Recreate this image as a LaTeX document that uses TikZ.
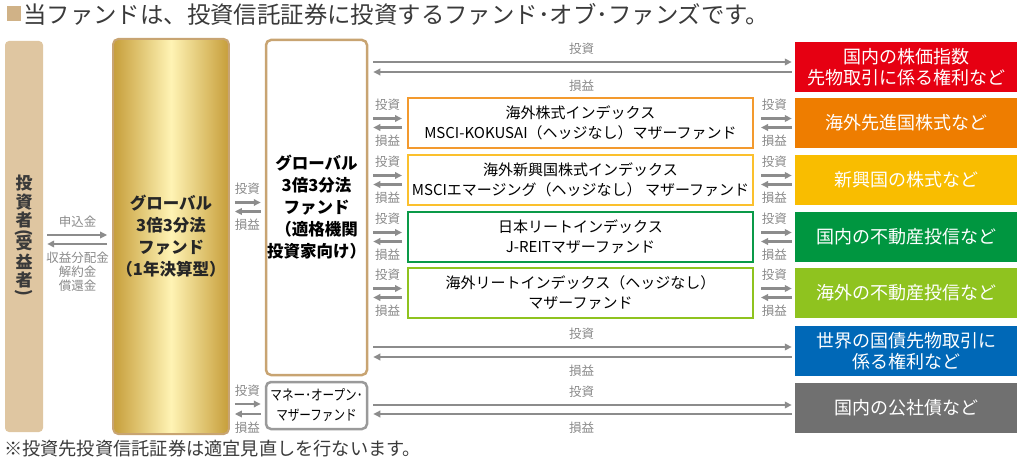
\documentclass[tikz,border=0pt]{standalone}
\usepackage{graphicx}
\usepackage{fontspec}
\setmainfont{Noto Sans CJK JP}
\newfontfamily\condfont[FakeStretch=0.8]{Noto Sans CJK JP}
\usetikzlibrary{arrows.meta,calc}

\definecolor{arrowgray}{HTML}{8C8C8C}
\definecolor{labelgray}{HTML}{8A8A8A}
\definecolor{textgray}{HTML}{3A3A3A}
\definecolor{tanfill}{HTML}{DFC6A1}
\definecolor{tanedge}{HTML}{C8A472}
\definecolor{golddark}{HTML}{C69E3A}
\definecolor{goldlight}{HTML}{FFF3B4}
\definecolor{moneyedge}{HTML}{9A9A9A}
\definecolor{edgeorange}{HTML}{F39A2E}
\definecolor{edgeyellow}{HTML}{FBC02D}
\definecolor{edgegreen}{HTML}{0A9A48}
\definecolor{edgelime}{HTML}{8FC31F}
\definecolor{assetred}{HTML}{E60012}
\definecolor{assetorange}{HTML}{EE7D00}
\definecolor{assetyellow}{HTML}{F9BD00}
\definecolor{assetgreen}{HTML}{009640}
\definecolor{assetlime}{HTML}{8FC31F}
\definecolor{assetblue}{HTML}{0068B7}
\definecolor{assetgray}{HTML}{707070}

\tikzset{
	arr/.style={color=arrowgray, line width=2.2pt, -{Triangle[length=7pt,width=6.5pt]}},
	lbl/.style={text=labelgray, font=\fontsize{12.5}{14}\selectfont, inner sep=1.5pt},
	fundbox/.style={rounded corners=5pt, line width=2.5pt, fill=white, align=center, inner sep=0pt,
		font=\bfseries\fontsize{16.5}{22}\selectfont},
	mother/.style={draw, line width=2pt, fill=white, minimum width=345pt, minimum height=50pt,
		align=center, inner sep=0pt, font=\fontsize{15}{20}\selectfont},
	asset/.style={text=white, minimum width=222pt, minimum height=50pt, align=center, inner sep=0pt,
		font=\fontsize{18}{21}\selectfont},
}

\begin{document}
\begin{tikzpicture}[x=1pt,y=-1pt]
	\useasboundingbox (0,0) rectangle (1024,462);

	% title and note
	\node(sq) at (13.5,14) [fill=tanedge!85, minimum width=14pt, minimum height=15pt, inner sep=0pt] {};
	\node(ttl) at (23,14) [anchor=west, text=textgray, inner sep=0pt, font=\fontsize{23.4}{25}\selectfont]
		{当ファンドは、投資信託証券に投資するファンド･オブ･ファンズです。};
	\node(note) at (4,449) [anchor=west, text=textgray, inner sep=0pt, font=\fontsize{18.2}{20}\selectfont]
		{※投資先投資信託証券は適宜見直しを行ないます。};

	% left side
	\node(inv) at (24,236.5) [fill=tanfill, rounded corners=4pt, minimum width=38pt, minimum height=391pt,
		text=textgray, align=center, inner sep=0pt, font=\bfseries\fontsize{17}{18.5}\selectfont]
		{投\\資\\者\\[-7pt]\rotatebox[origin=c]{-90}{(}\\[-7pt]受\\益\\者\\[-7pt]\rotatebox[origin=c]{-90}{)}};
	\node(gf) at (171,236.5) [draw=tanedge, line width=2pt, rounded corners=5pt, left color=golddark,
		right color=golddark, middle color=goldlight, minimum width=108pt, minimum height=395pt,
		align=center, text=black!85, font=\bfseries\fontsize{16.5}{22}\selectfont]
		{グローバル\\3倍3分法\\ファンド\\（1年決算型）};
	\node(gl) at (316.5,207.5) [fundbox, draw=tanedge, minimum width=101pt, minimum height=335pt]
		{グローバル\\3倍3分法\\ファンド\\（適格機関\\投資家向け）};
	\node(mo) at (316.5,405.5) [fundbox, draw=moneyedge, minimum width=101pt, minimum height=47pt,
		font=\condfont\fontsize{14.5}{20}\selectfont]
		{マネー･オープン･\\マザーファンド};

	% mother funds
	\node(m1) at (580.5,123) [mother, draw=edgeorange]
		{海外株式インデックス\\MSCI-KOKUSAI（ヘッジなし）マザーファンド};
	\node(m2) at (580.5,180) [mother, draw=edgeyellow]
		{海外新興国株式インデックス\\MSCIエマージング（ヘッジなし） マザーファンド};
	\node(m3) at (580.5,237) [mother, draw=edgegreen]
		{日本リートインデックス\\J-REITマザーファンド};
	\node(m4) at (580.5,293) [mother, draw=edgelime]
		{海外リートインデックス（ヘッジなし）\\マザーファンド};

	% assets
	\node(r1) at (906,67) [asset, fill=assetred] {国内の株価指数\\先物取引に係る権利など};
	\node(r2) at (906,123) [asset, fill=assetorange] {海外先進国株式など};
	\node(r3) at (906,180) [asset, fill=assetyellow] {新興国の株式など};
	\node(r4) at (906,237) [asset, fill=assetgreen] {国内の不動産投信など};
	\node(r5) at (906,293) [asset, fill=assetlime] {海外の不動産投信など};
	\node(r6) at (906,351) [asset, fill=assetblue] {世界の国債先物取引に\\係る権利など};
	\node(r7) at (906,408) [asset, fill=assetgray] {国内の公社債など};

	% investor <-> fund
	\path [arr,shorten <=4pt,shorten >=5pt] ($(inv.east |- inv)+(0,-1.5)$) edge node[lbl,above=5pt] {申込金} ($(gf.west |- inv)+(0,-1.5)$);
	\path [arr,shorten <=5pt,shorten >=4pt] ($(gf.west |- inv)+(0,7.5)$) edge node[lbl,below=5pt,align=center] {収益分配金\\解約金\\償還金} ($(inv.east |- inv)+(0,7.5)$);

	% fund <-> institutional fund / money fund
	\path [arr,shorten <=5pt,shorten >=4pt] ($(gf.east |- gl)+(0,-5)$) edge node[lbl,above=5pt] {投資} ($(gl.west)+(0,-5)$);
	\path [arr,shorten <=4pt,shorten >=5pt] ($(gl.west)+(0,4)$) edge node[lbl,below=5pt] {損益} ($(gf.east |- gl)+(0,4)$);
	\path [arr,shorten <=5pt,shorten >=4pt] ($(gf.east |- mo)+(0,-1.5)$) edge node[lbl,above=5pt] {投資} ($(mo.west)+(0,-1.5)$);
	\path [arr,shorten <=4pt,shorten >=5pt] ($(mo.west)+(0,8.5)$) edge node[lbl,below=5pt] {損益} ($(gf.east |- mo)+(0,8.5)$);

	% institutional fund <-> mother funds
	\path [arr,shorten <=5pt,shorten >=5pt] ($(gl.east |- m1)+(0,-4.5)$) edge node[lbl,above=5pt] {投資} ($(m1.west)+(0,-4.5)$);
	\path [arr,shorten <=5pt,shorten >=5pt] ($(m1.west)+(0,4.5)$) edge node[lbl,below=5pt] {損益} ($(gl.east |- m1)+(0,4.5)$);
	\path [arr,shorten <=5pt,shorten >=5pt] ($(gl.east |- m2)+(0,-4.5)$) edge node[lbl,above=5pt] {投資} ($(m2.west)+(0,-4.5)$);
	\path [arr,shorten <=5pt,shorten >=5pt] ($(m2.west)+(0,4.5)$) edge node[lbl,below=5pt] {損益} ($(gl.east |- m2)+(0,4.5)$);
	\path [arr,shorten <=5pt,shorten >=5pt] ($(gl.east |- m3)+(0,-4.5)$) edge node[lbl,above=5pt] {投資} ($(m3.west)+(0,-4.5)$);
	\path [arr,shorten <=5pt,shorten >=5pt] ($(m3.west)+(0,4.5)$) edge node[lbl,below=5pt] {損益} ($(gl.east |- m3)+(0,4.5)$);
	\path [arr,shorten <=5pt,shorten >=5pt] ($(gl.east |- m4)+(0,-4.5)$) edge node[lbl,above=5pt] {投資} ($(m4.west)+(0,-4.5)$);
	\path [arr,shorten <=5pt,shorten >=5pt] ($(m4.west)+(0,4.5)$) edge node[lbl,below=5pt] {損益} ($(gl.east |- m4)+(0,4.5)$);

	% mother funds <-> assets
	\path [arr,shorten <=7pt,shorten >=3pt] ($(m1.east)+(0,-4.5)$) edge node[lbl,above=5pt] {投資} ($(r2.west)+(0,-4.5)$);
	\path [arr,shorten <=3pt,shorten >=7pt] ($(r2.west)+(0,4.5)$) edge node[lbl,below=5pt] {損益} ($(m1.east)+(0,4.5)$);
	\path [arr,shorten <=7pt,shorten >=3pt] ($(m2.east)+(0,-4.5)$) edge node[lbl,above=5pt] {投資} ($(r3.west)+(0,-4.5)$);
	\path [arr,shorten <=3pt,shorten >=7pt] ($(r3.west)+(0,4.5)$) edge node[lbl,below=5pt] {損益} ($(m2.east)+(0,4.5)$);
	\path [arr,shorten <=7pt,shorten >=3pt] ($(m3.east)+(0,-4.5)$) edge node[lbl,above=5pt] {投資} ($(r4.west)+(0,-4.5)$);
	\path [arr,shorten <=3pt,shorten >=7pt] ($(r4.west)+(0,4.5)$) edge node[lbl,below=5pt] {損益} ($(m3.east)+(0,4.5)$);
	\path [arr,shorten <=7pt,shorten >=3pt] ($(m4.east)+(0,-4.5)$) edge node[lbl,above=5pt] {投資} ($(r5.west)+(0,-4.5)$);
	\path [arr,shorten <=3pt,shorten >=7pt] ($(r5.west)+(0,4.5)$) edge node[lbl,below=5pt] {損益} ($(m4.east)+(0,4.5)$);

	% direct investments
	\path [arr,shorten <=5pt,shorten >=3pt] ($(gl.east |- r1)+(0,-5)$) edge node[lbl,above=5pt] {投資} ($(r1.west)+(0,-5)$);
	\path [arr,shorten <=3pt,shorten >=5pt] ($(r1.west)+(0,5)$) edge node[lbl,below=5pt] {損益} ($(gl.east |- r1)+(0,5)$);
	\path [arr,shorten <=5pt,shorten >=3pt] ($(gl.east |- r6)+(0,-4)$) edge node[lbl,above=5pt] {投資} ($(r6.west)+(0,-4)$);
	\path [arr,shorten <=3pt,shorten >=5pt] ($(r6.west)+(0,6)$) edge node[lbl,below=5pt] {損益} ($(gl.east |- r6)+(0,6)$);
	\path [arr,shorten <=5pt,shorten >=3pt] ($(mo.east |- r7)+(0,-3)$) edge node[lbl,above=5pt] {投資} ($(r7.west)+(0,-3)$);
	\path [arr,shorten <=3pt,shorten >=5pt] ($(r7.west)+(0,6)$) edge node[lbl,below=5pt] {損益} ($(mo.east |- r7)+(0,6)$);
\end{tikzpicture}
\end{document}
